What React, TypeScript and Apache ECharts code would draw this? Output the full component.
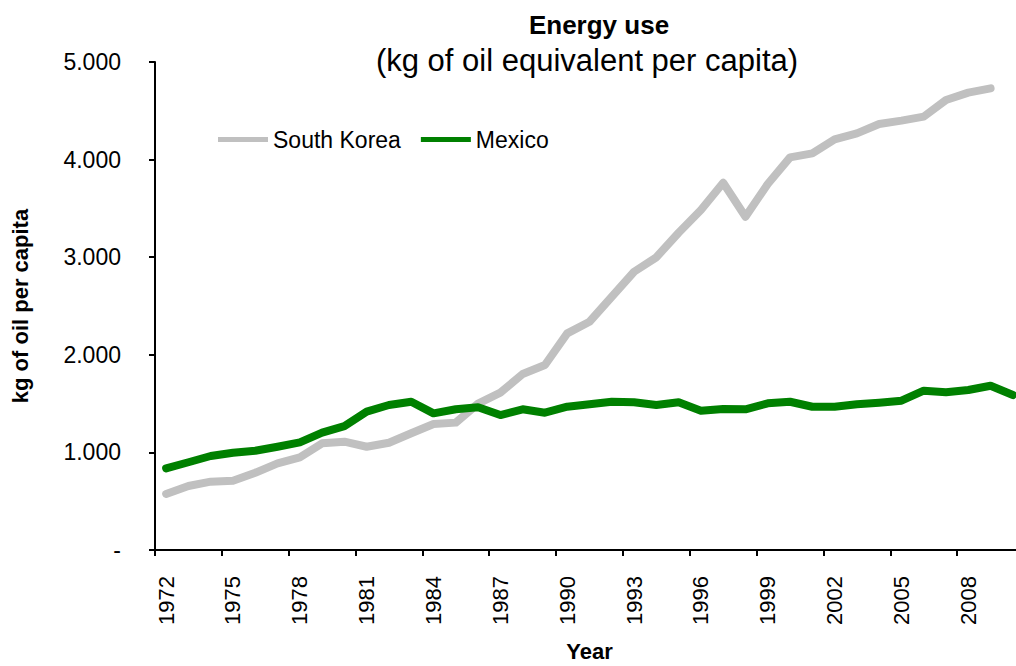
import React, { useEffect, useRef } from "react";
import * as echarts from "echarts";

const years: string[] = [];
for (let y = 1972; y <= 2010; y++) years.push(String(y));

const southKorea = [574, 656, 700, 710, 792, 888, 950, 1093, 1110, 1058, 1099, 1196, 1291, 1305, 1500, 1612, 1803, 1895, 2220, 2339, 2595, 2851, 2999, 3251, 3484, 3763, 3415, 3750, 4023, 4064, 4208, 4269, 4365, 4399, 4440, 4611, 4686, 4730];
const mexico = [837, 899, 963, 997, 1017, 1058, 1103, 1202, 1270, 1417, 1486, 1519, 1400, 1442, 1462, 1383, 1442, 1407, 1468, 1493, 1519, 1513, 1486, 1513, 1427, 1445, 1442, 1503, 1519, 1468, 1468, 1493, 1509, 1530, 1632, 1616, 1639, 1683, 1588];

const FONT = "Liberation Sans, Arial, sans-serif";

export default function App() {
  const ref = useRef<HTMLDivElement>(null);
  useEffect(() => {
    if (!ref.current) return;
    const chart = echarts.init(ref.current, null, { renderer: "svg" });
    chart.setOption({
      animation: false,
      backgroundColor: "#ffffff",
      textStyle: { fontFamily: FONT, color: "#000" },
      title: [
        {
          text: "Energy use",
          left: 594,
          top: 7,
          textAlign: "center",
          textStyle: { fontFamily: FONT, fontSize: 26, fontWeight: "bold", color: "#000" },
        },
        {
          text: "(kg of oil equivalent per capita)",
          left: 582,
          top: 40,
          textAlign: "center",
          textStyle: { fontFamily: FONT, fontSize: 31, fontWeight: "normal", color: "#000" },
        },
      ],
      legend: {
        left: 213,
        top: 123,
        itemWidth: 50,
        itemHeight: 24,
        itemGap: 20,
        icon: "path://M0,9.5 L50,9.5 L50,14.5 L0,14.5 Z",
        textStyle: { fontFamily: FONT, fontSize: 23, color: "#000" },
        data: ["South Korea", "Mexico"],
      },
      grid: { left: 155, top: 62, width: 869, height: 488, containLabel: false, outerBoundsMode: "none" },
      xAxis: {
        type: "category",
        data: years,
        boundaryGap: true,
        name: "Year",
        nameLocation: "middle",
        nameGap: 90,
        nameTextStyle: { fontFamily: FONT, fontSize: 22, fontWeight: "bold", color: "#000" },
        axisLine: { lineStyle: { color: "#000", width: 2 } },
        axisTick: { show: true, interval: 2, length: 6, lineStyle: { color: "#000", width: 2 } },
        axisLabel: { interval: 2, rotate: 90, margin: 26, fontFamily: FONT, fontSize: 22, color: "#000" },
        splitLine: { show: false },
      },
      yAxis: {
        type: "value",
        min: 0,
        max: 5000,
        interval: 1000,
        name: "kg of oil per capita",
        nameLocation: "middle",
        nameGap: 124,
        nameTextStyle: { fontFamily: FONT, fontSize: 22, fontWeight: "bold", color: "#000" },
        axisLine: { show: true, lineStyle: { color: "#000", width: 2 } },
        axisTick: { show: true, length: 6, lineStyle: { color: "#000", width: 2 } },
        axisLabel: {
          margin: 34,
          fontFamily: FONT,
          fontSize: 23,
          color: "#000",
          formatter: (v: number) => (v === 0 ? "-" : (v / 1000).toFixed(3)),
        },
        splitLine: { show: false },
      },
      series: [
        {
          name: "South Korea",
          type: "line",
          data: southKorea,
          symbol: "none",
          color: "#C0C0C0",
          lineStyle: { color: "#C0C0C0", width: 8, cap: "round", join: "round" },
        },
        {
          name: "Mexico",
          type: "line",
          data: mexico,
          symbol: "none",
          color: "#008000",
          lineStyle: { color: "#008000", width: 8, cap: "round", join: "round" },
        },
      ],
    });
    return () => chart.dispose();
  }, []);
  return (
    <div
      ref={ref}
      style={{ position: "fixed", left: 0, top: 0, width: 1016, height: 666, overflow: "hidden" }}
    />
  );
}
